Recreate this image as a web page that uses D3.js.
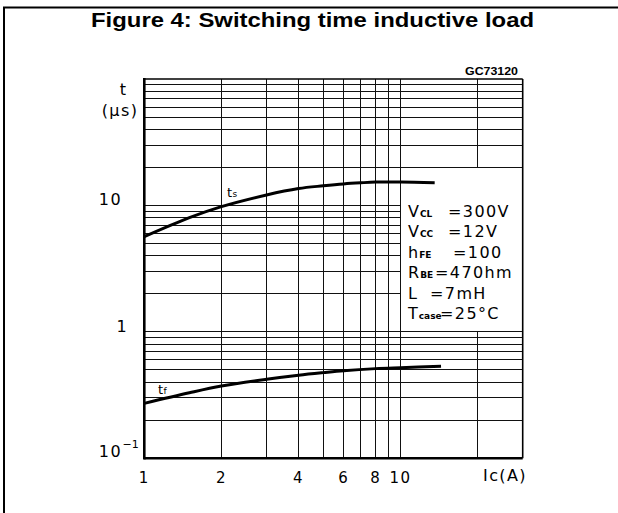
<!DOCTYPE html>
<html>
<head>
<meta charset="utf-8">
<script src="https://cdn.jsdelivr.net/npm/d3@7"></script>
<style>
  html, body { margin: 0; padding: 0; background: #fff; }
  svg { display: block; }
  text { font-family: "DejaVu Sans", "Liberation Sans", sans-serif; fill: #000; }
  .lbl { letter-spacing: 1.4px; }
</style>
</head>
<body>
<svg id="chart" width="618" height="513"></svg>
<script>
// ---- data ----
const title = "Figure 4: Switching time inductive load";
const code = "GC73120";
const xTickValues = [1, 2, 4, 6, 8, 10];
const xTickLabels = ["1", "2", "4", "6", "8", "10"];
const yTickValues = [0.1, 1, 10];
const yTickLabels = [["10", "−1"], ["1", ""], ["10", ""]];
const xGridValues = [2, 3, 4, 5, 6, 7, 8, 9, 10, 20];
const yGridValues = [0.2, 0.3, 0.4, 0.5, 0.6, 0.7, 0.8, 0.9, 1,
                     2, 3, 4, 5, 6, 7, 8, 9, 10,
                     20, 30, 40, 50, 60, 70, 80, 90];
const icTs = [1, 1.5, 2, 3, 4, 5, 6, 7, 8, 10, 13.6];
const ts   = [5.66, 8.0, 9.78, 12.1, 13.6, 14.3, 14.8, 15.1, 15.3, 15.3, 15.1];
const icTf = [1, 1.5, 2, 3, 4, 5, 6, 8, 10, 14.4];
const tf   = [0.272, 0.33, 0.373, 0.422, 0.454, 0.476, 0.493, 0.512, 0.521, 0.534];
const params = [
  ["V", "CL", "=300V"],
  ["V", "CC", "=12V"],
  ["h", "FE", "=100"],
  ["R", "BE", "=470hm"],
  ["L", "", "=7mH"],
  ["T", "case", "=25°C"]
];

// ---- layout ----
const svg = d3.select("#chart");
const x = d3.scaleLog().domain([1, 30]).range([144.3, 522.7]);
const y = d3.scaleLog().domain([0.1, 100]).range([458.3, 79]);
const eqX = [448, 448, 453, 435, 430, 440];

// outer frame
svg.append("path").attr("d", "M4,513 L4,7.5 L618,7.5")
  .attr("fill", "none").attr("stroke", "#000").attr("stroke-width", 2);

// title
svg.append("text").attr("x", 91).attr("y", 27)
  .style("font-family", "'Liberation Sans', Arial, sans-serif")
  .attr("font-size", 19.5).attr("font-weight", "bold")
  .attr("textLength", 443).attr("lengthAdjust", "spacingAndGlyphs")
  .text(title);

// code label
svg.append("text").attr("x", 465).attr("y", 75)
  .style("font-family", "'Liberation Sans', Arial, sans-serif")
  .attr("font-size", 10).attr("font-weight", "bold")
  .attr("textLength", 53).attr("lengthAdjust", "spacingAndGlyphs")
  .text(code);

const grid = svg.append("g").attr("stroke", "#111").attr("stroke-width", 1).attr("shape-rendering", "crispEdges");

// horizontal grid lines
yGridValues.forEach(v => {
  const xEnd = (v > 1 && v < 20) ? 10 : 30;
  grid.append("line")
    .attr("x1", x(1)).attr("x2", x(xEnd))
    .attr("y1", y(v)).attr("y2", y(v));
});
// vertical grid lines
xGridValues.forEach(v => {
  if (v < 20) {
    grid.append("line").attr("x1", x(v)).attr("x2", x(v))
      .attr("y1", y(100)).attr("y2", y(0.1));
  } else {
    grid.append("line").attr("x1", x(v)).attr("x2", x(v))
      .attr("y1", y(100)).attr("y2", y(20));
    grid.append("line").attr("x1", x(v)).attr("x2", x(v))
      .attr("y1", y(1)).attr("y2", y(0.1));
  }
});

// plot border
svg.append("line").attr("x1", x(1)).attr("x2", x(30)).attr("y1", y(100)).attr("y2", y(100))
  .attr("stroke", "#000").attr("stroke-width", 1.6);
svg.append("line").attr("x1", x(30)).attr("x2", x(30)).attr("y1", y(100)).attr("y2", y(0.1))
  .attr("stroke", "#000").attr("stroke-width", 1.6);
svg.append("line").attr("x1", x(1)).attr("x2", x(30)).attr("y1", y(0.1)).attr("y2", y(0.1))
  .attr("stroke", "#000").attr("stroke-width", 2.6);
svg.append("line").attr("x1", x(1)).attr("x2", x(1)).attr("y1", y(100) - 1).attr("y2", y(0.1) + 1.3)
  .attr("stroke", "#000").attr("stroke-width", 2.6);

// curves
const line = d3.line().curve(d3.curveCatmullRom.alpha(0.5));
svg.append("path")
  .attr("d", line(icTs.map((c, i) => [x(c), y(ts[i])])))
  .attr("fill", "none").attr("stroke", "#000").attr("stroke-width", 3);
svg.append("path")
  .attr("d", line(icTf.map((c, i) => [x(c), y(tf[i])])))
  .attr("fill", "none").attr("stroke", "#000").attr("stroke-width", 3);

// curve labels
const tsl = svg.append("text").attr("x", 227).attr("y", 197).attr("font-size", 13);
tsl.append("tspan").text("t");
tsl.append("tspan").attr("font-size", 9).attr("dx", 0.5).text("s");
const tfl = svg.append("text").attr("x", 158).attr("y", 394).attr("font-size", 13);
tfl.append("tspan").text("t");
tfl.append("tspan").attr("font-size", 9).attr("dx", 0.5).text("f");

// x tick labels
xTickValues.forEach((v, i) => {
  svg.append("text").attr("class", "lbl").attr("x", x(v)).attr("y", 483)
    .attr("font-size", 15).attr("text-anchor", "middle").text(xTickLabels[i]);
});
// x axis title
const ic = svg.append("text").attr("class", "lbl").attr("x", 483).attr("y", 481).attr("font-size", 16);
ic.append("tspan").text("I");
ic.append("tspan").text("c(A)");

// y tick labels
const yEnds = [122, 128, 122];
yTickValues.forEach((v, i) => {
  const t = svg.append("text").attr("class", "lbl").attr("x", yEnds[i]).attr("y", y(v) + (i === 0 ? -1 : 0))
    .attr("font-size", 16).attr("text-anchor", "end");
  t.text(yTickLabels[i][0]);
  if (yTickLabels[i][1]) {
    svg.append("text").attr("x", yEnds[i] + 0.5).attr("y", y(v) - 10)
      .attr("font-size", 11).text(yTickLabels[i][1]);
  }
});
// y axis title
svg.append("text").attr("x", 123).attr("y", 95).attr("font-size", 16).attr("text-anchor", "middle").text("t");
svg.append("text").attr("class", "lbl").attr("x", 120).attr("y", 116).attr("font-size", 16).attr("text-anchor", "middle").text("(µs)");

// parameters
params.forEach((p, i) => {
  const by = 216.5 + i * 20.5;
  const t = svg.append("text").attr("x", 408).attr("y", by).attr("font-size", 16);
  t.append("tspan").text(p[0]);
  if (p[1]) t.append("tspan").attr("font-size", 9).attr("font-weight", "bold").attr("dx", 1).text(p[1]);
  svg.append("text").attr("class", "lbl").attr("x", eqX[i]).attr("y", by).attr("font-size", 16).text(p[2]);
});
</script>
</body>
</html>
